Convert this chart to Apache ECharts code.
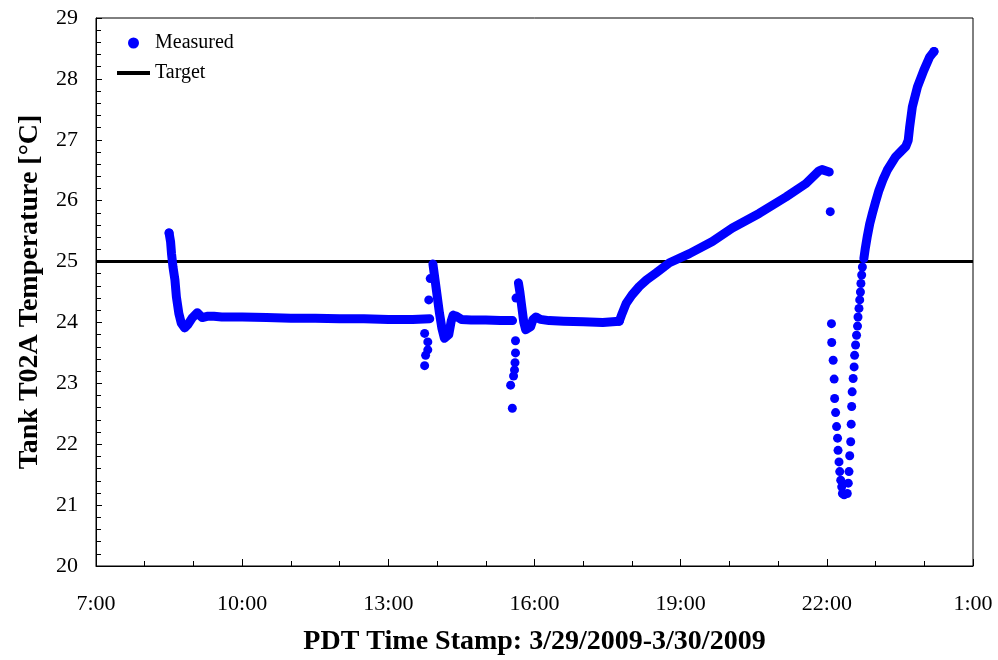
<!DOCTYPE html>
<html>
<head>
<meta charset="utf-8">
<script src="https://cdn.jsdelivr.net/npm/echarts@6/dist/echarts.min.js"></script>
<style>
  html, body { margin: 0; padding: 0; background: #fff; }
  #main { width: 998px; height: 660px; }
</style>
</head>
<body>
<div id="main"></div>
<script>
// clock hours (decimal, 24+ = next day) and temperature in °C
var START_HOUR = 7;
var xTickLabels = ['7:00', '10:00', '13:00', '16:00', '19:00', '22:00', '1:00'];
var targetTemp = 25;

// dense stretches of the measured record (points so close they merge into a trace)
var segMorning = [
  [8.50, 25.47], [8.53, 25.33], [8.55, 25.13], [8.58, 24.91], [8.62, 24.70], [8.65, 24.42],
  [8.70, 24.15], [8.75, 23.99], [8.82, 23.91], [8.88, 23.96], [8.98, 24.08], [9.08, 24.16],
  [9.18, 24.08], [9.28, 24.10], [9.42, 24.10], [9.58, 24.09], [10.0, 24.09], [10.5, 24.08],
  [11.0, 24.07], [11.5, 24.07], [12.0, 24.06], [12.5, 24.06], [13.0, 24.05], [13.5, 24.05],
  [13.85, 24.06]
];
var segAfternoon = [
  [13.915, 24.96], [13.95, 24.75], [14.0, 24.45], [14.05, 24.15], [14.10, 23.90], [14.15, 23.74],
  [14.19, 23.71], [14.24, 23.80], [14.29, 24.02], [14.33, 24.12], [14.40, 24.10], [14.5, 24.05],
  [14.7, 24.04], [15.0, 24.04], [15.3, 24.03], [15.55, 24.03]
];
var segEvening = [
  [15.67, 24.65], [15.70, 24.50], [15.74, 24.25], [15.78, 24.00], [15.82, 23.88], [15.86, 23.85],
  [15.92, 23.93], [15.97, 24.05], [16.03, 24.09], [16.12, 24.05], [16.3, 24.03], [16.6, 24.02],
  [17.0, 24.01], [17.4, 24.00], [17.74, 24.02]
];
var segRamp = [
  [17.74, 24.02], [17.80, 24.15], [17.88, 24.31], [18.0, 24.45], [18.15, 24.59], [18.3, 24.70],
  [18.49, 24.81], [18.77, 24.98], [19.18, 25.13], [19.65, 25.33], [20.06, 25.55], [20.61, 25.79],
  [21.16, 26.06], [21.57, 26.28], [21.84, 26.49], [21.90, 26.51], [22.05, 26.47]
];
var segRecovery = [
  [22.76, 25.05], [22.79, 25.22], [22.83, 25.41], [22.88, 25.62], [22.935, 25.79], [23.0, 25.98],
  [23.07, 26.17], [23.15, 26.34], [23.24, 26.50], [23.41, 26.72], [23.62, 26.89], [23.67, 26.99],
  [23.70, 27.21], [23.755, 27.54], [23.86, 27.87], [23.99, 28.14], [24.11, 28.36], [24.20, 28.45]
];

// separate readings that show as single dots
var sparsePoints = [
  [13.745, 23.82], [13.81, 23.68], [13.81, 23.55], [13.765, 23.46], [13.745, 23.29],
  [13.83, 24.37], [13.86, 24.72],
  [15.61, 23.70], [15.61, 23.50], [15.60, 23.34], [15.59, 23.22], [15.57, 23.12],
  [15.51, 22.97], [15.545, 22.59], [15.62, 24.40],
  [22.07, 25.82], [22.095, 23.98], [22.10, 23.67], [22.13, 23.38], [22.15, 23.07],
  [22.16, 22.75], [22.18, 22.52], [22.20, 22.29], [22.22, 22.10], [22.23, 21.90],
  [22.25, 21.71], [22.265, 21.55], [22.285, 21.41], [22.305, 21.30], [22.32, 21.19],
  [22.355, 21.17], [22.42, 21.19], [22.44, 21.36], [22.455, 21.55], [22.47, 21.81],
  [22.49, 22.04], [22.50, 22.33], [22.51, 22.62], [22.52, 22.86], [22.54, 23.08],
  [22.56, 23.27], [22.57, 23.46], [22.59, 23.63], [22.61, 23.79], [22.63, 23.94],
  [22.64, 24.09], [22.66, 24.23], [22.675, 24.37], [22.69, 24.50], [22.70, 24.64],
  [22.715, 24.78], [22.73, 24.91]
];

function toX(pts) {
  return pts.map(function (p) { return [p[0] - START_HOUR, p[1]]; });
}

var serif = 'Liberation Serif';
var blue = '#0000ff';
var segments = [segMorning, segAfternoon, segEvening, segRamp, segRecovery];

var series = segments.map(function (seg) {
  return {
    name: 'trace',
    type: 'line',
    data: toX(seg),
    symbol: 'none',
    silent: true,
    lineStyle: { color: blue, width: 9, cap: 'round', join: 'round' },
    z: 3
  };
});

series.push({
  name: 'Measured',
  type: 'scatter',
  data: toX(sparsePoints.concat([segMorning[0], segRecovery[segRecovery.length - 1]])),
  symbol: 'circle',
  symbolSize: 9,
  itemStyle: { color: blue, opacity: 1 },
  z: 4
});

series.push({
  name: 'Target',
  type: 'line',
  data: [[0, targetTemp], [18, targetTemp]],
  symbol: 'none',
  lineStyle: { color: '#000', width: 3 },
  itemStyle: { color: '#000' },
  z: 2
});

var chart = echarts.init(document.getElementById('main'));
chart.setOption({
  animation: false,
  backgroundColor: '#fff',
  grid: {
    left: 96, right: 25, top: 18, bottom: 94,
    outerBoundsMode: 'none',
    containLabel: false,
    show: true, borderColor: '#000', borderWidth: 1
  },
  legend: {
    data: [
      { name: 'Measured', icon: 'circle' },
      { name: 'Target', icon: 'path://M0,0H40V5H0Z' }
    ],
    orient: 'vertical',
    left: 112,
    top: 28,
    itemWidth: 33,
    itemHeight: 11,
    itemGap: 10,
    textStyle: { fontFamily: serif, fontSize: 20, color: '#000' }
  },
  xAxis: {
    type: 'value',
    min: 0,
    max: 18,
    interval: 3,
    name: 'PDT Time Stamp: 3/29/2009-3/30/2009',
    nameLocation: 'middle',
    nameGap: 62,
    nameTextStyle: { fontFamily: serif, fontSize: 28, fontWeight: 'bold', color: '#000' },
    axisLine: { onZero: false, lineStyle: { color: '#000', width: 1 } },
    axisTick: { inside: true, length: 7, lineStyle: { color: '#000' } },
    minorTick: { show: true, splitNumber: 3, length: 5, lineStyle: { color: '#000' } },
    splitLine: { show: false },
    axisLabel: {
      margin: 27,
      fontFamily: serif, fontSize: 22, color: '#000',
      formatter: function (v) { return xTickLabels[Math.round(v / 3)]; }
    }
  },
  yAxis: {
    type: 'value',
    min: 20,
    max: 29,
    interval: 1,
    name: 'Tank T02A Temperature [°C]',
    nameLocation: 'middle',
    nameRotate: 90,
    nameGap: 52,
    nameTextStyle: { fontFamily: serif, fontSize: 28, fontWeight: 'bold', color: '#000' },
    axisLine: { show: true, lineStyle: { color: '#000', width: 1 } },
    axisTick: { inside: true, length: 6, lineStyle: { color: '#000' } },
    minorTick: { show: true, splitNumber: 5, length: 5, lineStyle: { color: '#000' } },
    splitLine: { show: false },
    axisLabel: { margin: 18, fontFamily: serif, fontSize: 22, color: '#000' }
  },
  series: series
});
</script>
</body>
</html>
